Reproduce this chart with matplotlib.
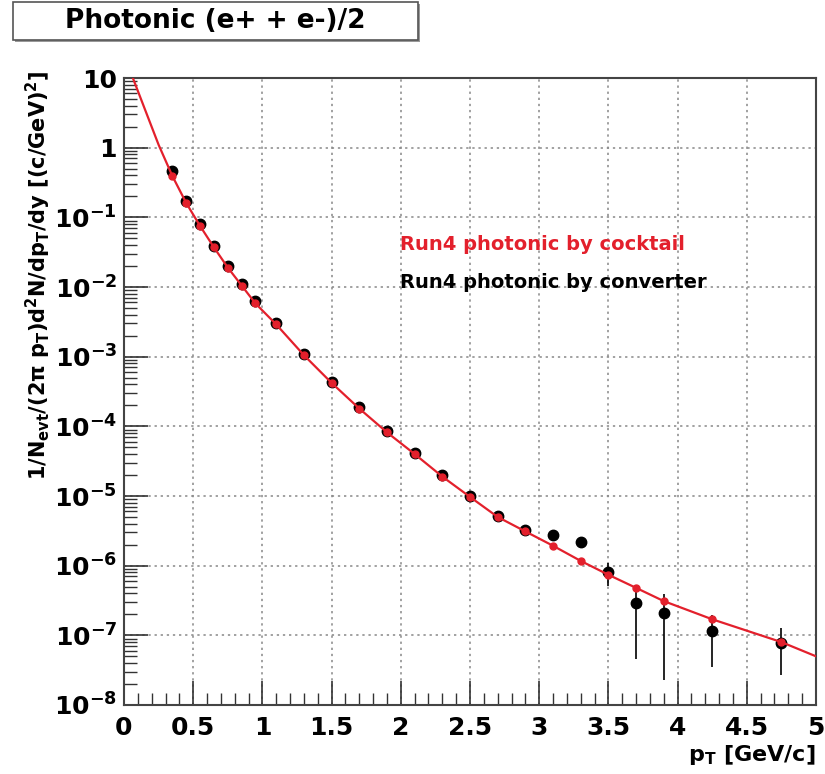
import matplotlib
matplotlib.use('Agg')
import matplotlib.pyplot as plt
import numpy as np
from matplotlib.ticker import FixedLocator, FixedFormatter, MultipleLocator, LogLocator, NullFormatter
from matplotlib.patches import Rectangle

plt.rcParams['font.family'] = ['DejaVu Sans']
plt.rcParams['font.weight'] = 'bold'
plt.rcParams['mathtext.fontset'] = 'custom'
plt.rcParams['mathtext.rm'] = 'DejaVu Sans:bold'
plt.rcParams['mathtext.bf'] = 'DejaVu Sans:bold'
plt.rcParams['mathtext.it'] = 'DejaVu Sans:bold'
plt.rcParams['mathtext.default'] = 'bf'

# data
pt = [0.35, 0.45, 0.55, 0.65, 0.75, 0.85, 0.95, 1.1, 1.3, 1.5, 1.7, 1.9,
      2.1, 2.3, 2.5, 2.7, 2.9, 3.1, 3.3, 3.5, 3.7, 3.9, 4.25, 4.75]
converter = [0.46, 0.17, 0.081, 0.039, 0.020, 0.011, 0.0062, 0.0030,
             1.09e-3, 4.3e-4, 1.88e-4, 8.5e-5, 4.2e-5, 1.97e-5, 1.0e-5, 5.2e-6,
             3.3e-6, 2.78e-6, 2.2e-6, 8.1e-7, 2.9e-7, 2.1e-7, 1.15e-7, 7.7e-8]
converter_err = [0.02, 0.006, 0.003, 0.0015, 0.0007, 0.0004, 0.0002, 0.0001,
                 4e-5, 1.5e-5, 7e-6, 3e-6, 1.5e-6, 7e-7, 4e-7, 3e-7,
                 2.5e-7, 3e-7, 4e-7, 3e-7, 2.45e-7, 1.87e-7, 8e-8, 5e-8]
cocktail = [0.39, 0.16, 0.075, 0.037, 0.019, 0.0105, 0.0058, 0.0029,
            1.05e-3, 4.2e-4, 1.8e-4, 8.2e-5, 4.0e-5, 1.9e-5, 9.7e-6, 5.0e-6,
            3.1e-6, 1.93e-6, 1.17e-6, 7.4e-7, 4.8e-7, 3.1e-7, 1.7e-7, 8.0e-8]
# cocktail curve: low pt part, then through the cocktail points, then end
curve_pt = [0.0, 0.06, 0.15, 0.25] + pt + [5.0]
curve_val = [20.0, 10.5, 3.6, 1.1] + cocktail + [5.0e-8]

y_ticks = [1e1, 1e0, 1e-1, 1e-2, 1e-3, 1e-4, 1e-5, 1e-6, 1e-7, 1e-8]
y_labels = ['10', '1', '$10^{-1}$', '$10^{-2}$', '$10^{-3}$', '$10^{-4}$',
            '$10^{-5}$', '$10^{-6}$', '$10^{-7}$', '$10^{-8}$']
x_ticks = [0, 0.5, 1, 1.5, 2, 2.5, 3, 3.5, 4, 4.5, 5]
x_labels = ['0', '0.5', '1', '1.5', '2', '2.5', '3', '3.5', '4', '4.5', '5']

red = '#e3202c'

fig = plt.figure(figsize=(8.25, 7.74), dpi=100)
W, H = 825.0, 774.0
ax = fig.add_axes([124 / W, 1 - 705 / H, (816 - 124) / W, (705 - 78) / H])

ax.set_yscale('log')
ax.set_xlim(0, 5)
ax.set_ylim(1e-8, 10)

ax.errorbar(pt, converter, yerr=converter_err, fmt='o', color='black',
            markersize=7.5, elinewidth=1.2, capsize=0, zorder=3)
ax.plot(curve_pt, curve_val, color=red, lw=1.6, zorder=4)
ax.plot(pt, cocktail, 'o', color=red, markersize=5, zorder=5)

# grid
ax.grid(True, which='major', color='#888888', linestyle=(0, (1.5, 2.5)), lw=1.1)
ax.set_axisbelow(True)

# ticks
ax.xaxis.set_major_locator(FixedLocator(x_ticks))
ax.xaxis.set_major_formatter(FixedFormatter(x_labels))
ax.xaxis.set_minor_locator(MultipleLocator(0.1))
ax.yaxis.set_major_locator(FixedLocator(y_ticks))
ax.yaxis.set_major_formatter(FixedFormatter(y_labels))
ax.yaxis.set_minor_locator(LogLocator(base=10, subs=np.arange(2, 10), numticks=20))
ax.yaxis.set_minor_formatter(NullFormatter())
ax.tick_params(which='major', direction='in', length=17, width=1.2,
               labelsize=18, top=False, right=False, color='#333333')
ax.tick_params(which='minor', direction='in', length=9, width=1.0,
               top=False, right=False, color='#333333')
ax.tick_params(axis='x', pad=8)
ax.tick_params(axis='y', pad=5)
for lab in ax.get_xticklabels() + ax.get_yticklabels():
    lab.set_fontweight('bold')
for sp in ax.spines.values():
    sp.set_color('#444444')
    sp.set_linewidth(1.5)

ax.set_xlabel('p$_{T}$ [GeV/c]', fontsize=16, fontweight='bold')
ax.xaxis.set_label_coords(1.0, -(755 - 705) / (705 - 78))
ax.xaxis.label.set_horizontalalignment('right')
ax.xaxis.label.set_verticalalignment('center')

fig.text(38 / W, 1 - 275 / H,
         '1/N$_{evt}$/(2π p$_{T}$)d$^{2}$N/dp$_{T}$/dy [(c/GeV)$^{2}$]',
         rotation=90, ha='center', va='center', fontsize=15, fontweight='bold')

# legend texts
fig.text(400 / W, 1 - 245 / H, 'Run4 photonic by cocktail', color=red,
         fontsize=14, fontweight='bold', va='center', ha='left')
fig.text(400 / W, 1 - 282 / H, 'Run4 photonic by converter', color='black',
         fontsize=14, fontweight='bold', va='center', ha='left')

# title box
fig.patches.append(Rectangle((15 / W, 1 - 42 / H), 405 / W, 38 / H,
                             transform=fig.transFigure, facecolor='#999999',
                             edgecolor='none'))
fig.patches.append(Rectangle((13 / W, 1 - 40 / H), 405 / W, 38 / H,
                             transform=fig.transFigure, facecolor='white',
                             edgecolor='#555555', lw=1.2))
fig.text(215 / W, 1 - 21 / H, 'Photonic (e+ + e-)/2', fontsize=19,
         fontweight='bold', ha='center', va='center')

fig.savefig('out.png', dpi=100)
